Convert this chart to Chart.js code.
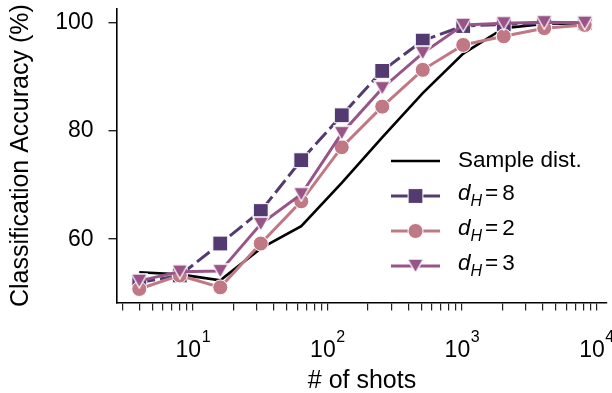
<!DOCTYPE html>
<html>
<head>
<meta charset="utf-8">
<script src="https://cdn.jsdelivr.net/npm/chart.js@4"></script>
<style>
html,body{margin:0;padding:0;background:#fff;}
#wrap{width:612px;height:393px;position:relative;}
</style>
</head>
<body>
<div id="wrap"><canvas id="c" width="612" height="393"></canvas></div>
<script>
// ---- data ----
const shots = [4, 8, 16, 32, 64, 128, 256, 512, 1024, 2048, 4096, 8192];
const sampleDist = [53.9, 53.5, 52.4, 58.3, 62.4, 70.4, 78.8, 87.0, 94.3, 99.0, 99.8, 99.9];
const dH8 = [52.0, 53.3, 59.2, 65.2, 74.6, 82.9, 91.1, 96.7, 99.4, 99.7, 99.9, 100.0];
const dH2 = [50.8, 53.3, 51.1, 59.2, 67.0, 77.0, 84.5, 91.3, 95.9, 97.5, 99.0, 99.6];
const dH3 = [52.3, 54.0, 54.1, 62.8, 68.3, 79.6, 87.9, 94.4, 99.6, 99.9, 100.1, 100.0];
const seriesLabels = ['Sample dist.', '8', '2', '3'];
const yTickValues = [60, 80, 100];
const xMajorTicks = [10, 100, 1000, 10000];
const xMantissas = [2, 3, 4, 5, 6, 7, 8, 9];
const xLimits = [2.732, 11993];
const yLimits = [48.3, 102.6];

const C8 = '#533b72', C2 = '#c07885', C3 = '#985487';
const FONT = '"Liberation Sans", Arial, sans-serif';
const FS_TICK = 23, FS_LAB = 25, FS_LEG = 22.5;

function triImg(color, w, h) {
  const cv = document.createElement('canvas');
  cv.width = w; cv.height = h;
  const g = cv.getContext('2d');
  g.beginPath();
  g.moveTo(1, 1); g.lineTo(w - 1, 1); g.lineTo(w / 2, h - 1); g.closePath();
  g.fillStyle = color; g.fill();
  g.strokeStyle = '#fff'; g.lineWidth = 1.3; g.stroke();
  return cv;
}
const tri = triImg(C3, 18, 16);

const xMinorTicks = [];
[1, 10, 100, 1000].forEach(d => xMantissas.forEach(m => {
  const v = m * d;
  if (v >= xLimits[0] && v <= xLimits[1]) xMinorTicks.push(v);
}));
const xAllTicks = xMinorTicks.concat(xMajorTicks).sort((a, b) => a - b);

const pts = arr => shots.map((s, i) => ({x: s, y: arr[i]}));

const customText = {
  id: 'customText',
  afterDraw(chart) {
    const ctx = chart.ctx;
    const xs = chart.scales.x;
    const ca = chart.chartArea;
    ctx.save();
    ctx.fillStyle = '#000';
    // x tick labels 10^n
    xMajorTicks.forEach(v => {
      const px = xs.getPixelForValue(v);
      const base = '10', exp = String(Math.round(Math.log10(v)));
      ctx.font = FS_TICK + 'px ' + FONT;
      const w1 = ctx.measureText(base).width;
      ctx.font = Math.round(FS_TICK * 0.7) + 'px ' + FONT;
      const w2 = ctx.measureText(exp).width;
      const start = px - (w1 + w2) / 2;
      ctx.textBaseline = 'alphabetic';
      ctx.textAlign = 'left';
      ctx.font = FS_TICK + 'px ' + FONT;
      ctx.fillText(base, start, 357);
      ctx.font = Math.round(FS_TICK * 0.7) + 'px ' + FONT;
      ctx.fillText(exp, start + w1 + 0.5, 342);
    });
    // axis titles
    ctx.font = FS_LAB + 'px ' + FONT;
    ctx.textAlign = 'center';
    ctx.textBaseline = 'middle';
    ctx.fillText('# of shots', (ca.left + ca.right) / 2, 381);
    ctx.save();
    ctx.translate(21, (ca.top + ca.bottom) / 2);
    ctx.rotate(-Math.PI / 2);
    ctx.fillText('Classification Accuracy (%)', 0, 0);
    ctx.restore();

    // legend
    const lx0 = 391, lx1 = 440, mx = 415.5, tx = 458;
    const rows = [161, 196, 231, 266];
    ctx.lineCap = 'butt';
    ctx.strokeStyle = '#000'; ctx.lineWidth = 2.6;
    ctx.beginPath(); ctx.moveTo(lx0, rows[0]); ctx.lineTo(lx1, rows[0]); ctx.stroke();
    const cols = [null, C8, C2, C3];
    for (let i = 1; i < 4; i++) {
      ctx.strokeStyle = cols[i]; ctx.lineWidth = 3;
      ctx.beginPath(); ctx.moveTo(lx0, rows[i]); ctx.lineTo(lx1, rows[i]); ctx.stroke();
    }
    ctx.fillStyle = C8; ctx.strokeStyle = '#fff'; ctx.lineWidth = 1;
    ctx.beginPath(); ctx.rect(mx - 7.4, rows[1] - 7.4, 14.8, 14.8); ctx.fill(); ctx.stroke();
    ctx.fillStyle = C2;
    ctx.beginPath(); ctx.arc(mx, rows[2], 7.5, 0, Math.PI * 2); ctx.fill(); ctx.stroke();
    ctx.drawImage(tri, mx - tri.width / 2, rows[3] - tri.height / 2);
    // legend text
    ctx.fillStyle = '#000';
    ctx.textAlign = 'left';
    ctx.textBaseline = 'middle';
    ctx.font = FS_LEG + 'px ' + FONT;
    ctx.fillText(seriesLabels[0], tx, rows[0]);
    for (let i = 1; i < 4; i++) {
      let x = tx;
      ctx.font = 'italic ' + FS_LEG + 'px ' + FONT;
      ctx.fillText('d', x, rows[i] - 2);
      x += ctx.measureText('d').width;
      ctx.font = 'italic ' + Math.round(FS_LEG * 0.7) + 'px ' + FONT;
      ctx.fillText('H', x, rows[i] + 6);
      x += ctx.measureText('H').width + 3;
      ctx.font = FS_LEG + 'px ' + FONT;
      ctx.fillText('=', x, rows[i] - 2);
      x += ctx.measureText('=').width + 4;
      ctx.fillText(seriesLabels[i], x, rows[i] - 2);
    }
    ctx.restore();
  }
};

new Chart(document.getElementById('c'), {
  type: 'line',
  data: {
    datasets: [
      {label: seriesLabels[0], data: pts(sampleDist), borderColor: '#000', borderWidth: 2.6,
       pointRadius: 0, order: 4, clip: false},
      {label: 'd_H = ' + seriesLabels[1], data: pts(dH8), borderColor: C8, backgroundColor: C8, borderWidth: 3,
       borderDash: [16, 5], pointStyle: 'rect', pointRadius: 10.5, pointBorderColor: '#fff',
       pointBorderWidth: 1, pointBackgroundColor: C8, order: 3, clip: false},
      {label: 'd_H = ' + seriesLabels[2], data: pts(dH2), borderColor: C2, backgroundColor: C2, borderWidth: 3,
       pointStyle: 'circle', pointRadius: 7.5, pointBorderColor: '#fff',
       pointBorderWidth: 1, pointBackgroundColor: C2, order: 2, clip: false},
      {label: 'd_H = ' + seriesLabels[3], data: pts(dH3), borderColor: C3, backgroundColor: C3, borderWidth: 3,
       pointStyle: tri, pointRadius: 8, order: 1, clip: false}
    ]
  },
  options: {
    responsive: false,
    animation: false,
    devicePixelRatio: 1,
    layout: {autoPadding: false, padding: {top: 8.7, right: 5, left: 0, bottom: 0}},
    plugins: {legend: {display: false}, tooltip: {enabled: false}},
    elements: {line: {tension: 0}},
    scales: {
      x: {
        type: 'logarithmic',
        min: xLimits[0], max: xLimits[1],
        afterBuildTicks: s => { s.ticks = xAllTicks.map(v => ({value: v, major: xMajorTicks.includes(v)})); },
        afterFit: s => { s.height = 90.5; s.paddingLeft = 0; s.paddingRight = 0; },
        ticks: {display: false},
        grid: {display: true, drawOnChartArea: false, drawTicks: true, tickLength: 8, color: '#222', lineWidth: 1.2},
        border: {display: true, color: '#000', width: 1.6}
      },
      y: {
        type: 'linear',
        min: yLimits[0], max: yLimits[1],
        afterBuildTicks: s => { s.ticks = yTickValues.map(v => ({value: v})); },
        afterFit: s => { s.width = 117; s.paddingTop = 0; s.paddingBottom = 0; },
        ticks: {color: '#000', font: {family: FONT, size: FS_TICK}, padding: 15, autoSkip: false},
        grid: {display: true, drawOnChartArea: false, drawTicks: true, tickLength: 8.5, color: '#222', lineWidth: 1.4},
        border: {display: true, color: '#000', width: 1.6}
      }
    }
  },
  plugins: [customText]
});
</script>
</body>
</html>
